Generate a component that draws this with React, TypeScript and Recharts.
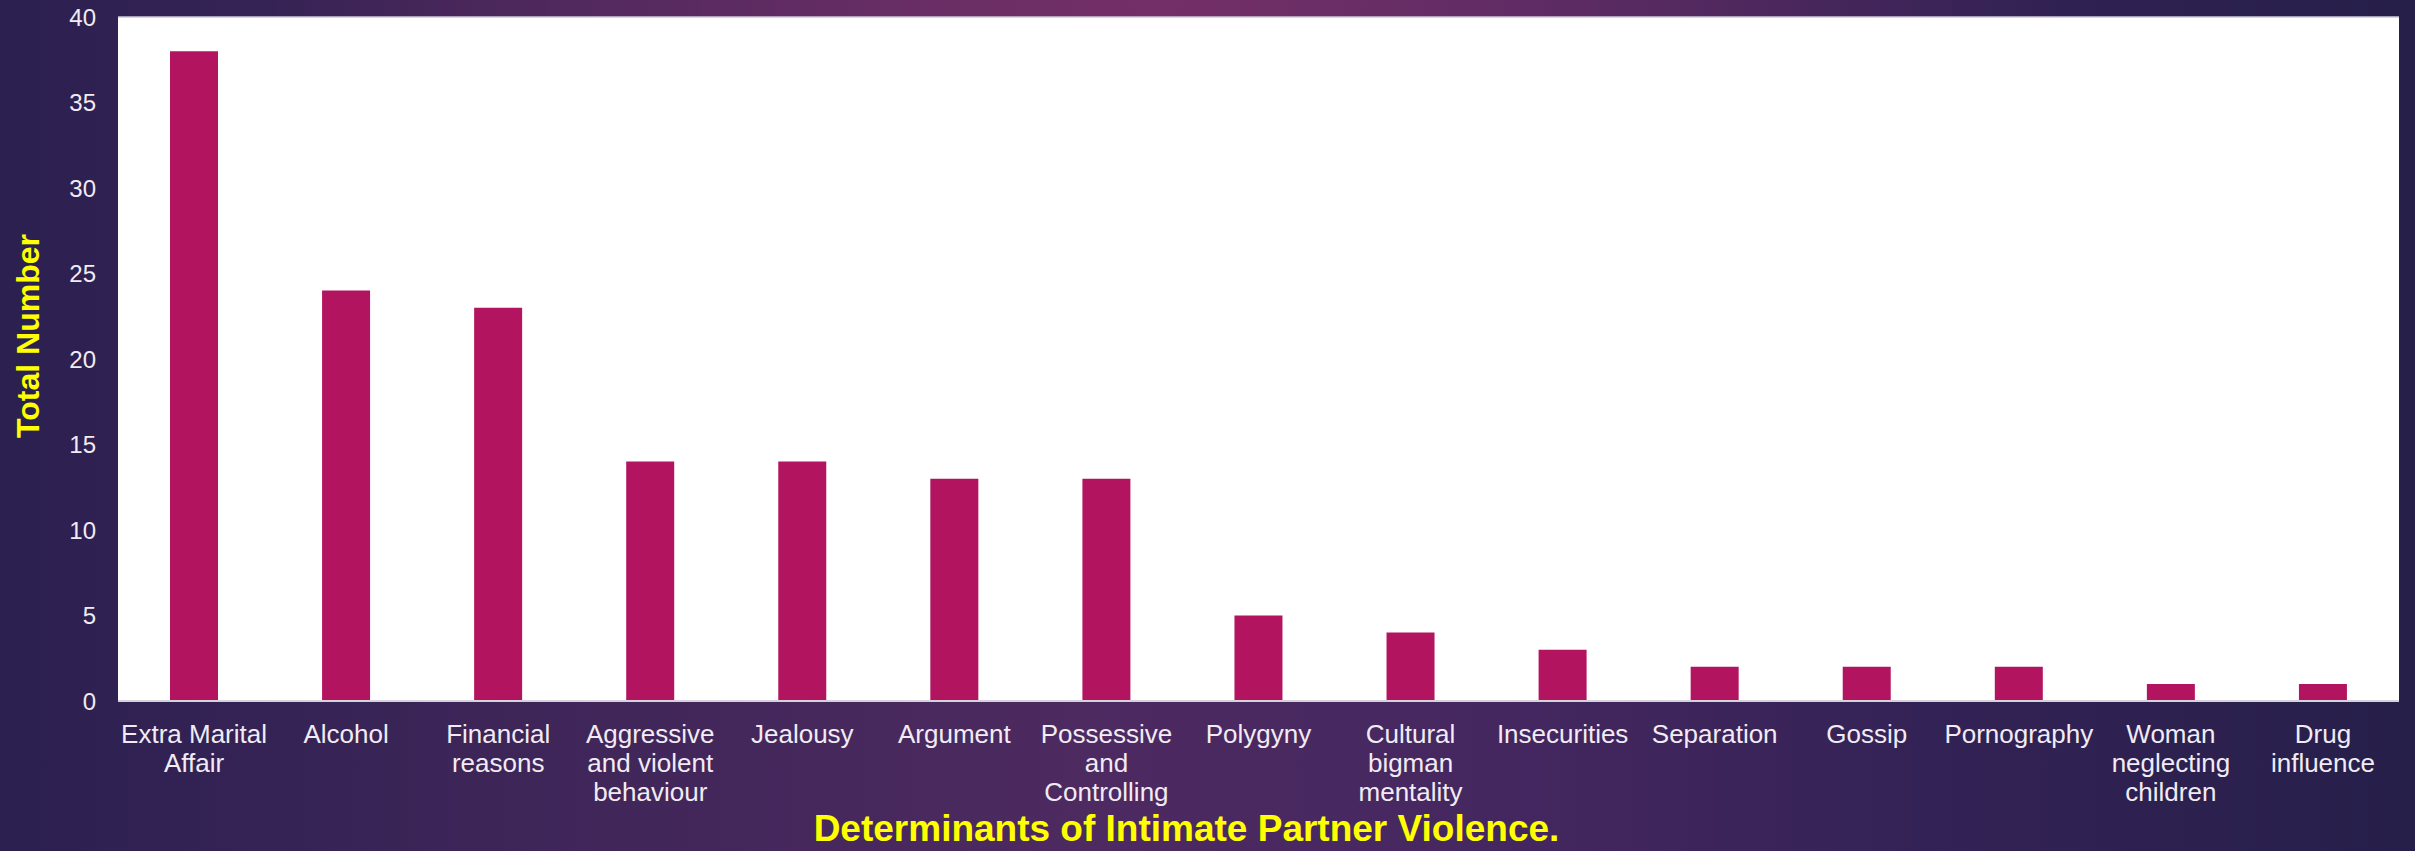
import React from "react";
import {
  BarChart,
  Bar,
  XAxis,
  YAxis,
  CartesianGrid,
  ReferenceLine,
  Label,
} from "recharts";

// categories use "\n" where the label wraps
const categories = [
  "Extra Marital\nAffair",
  "Alcohol",
  "Financial\nreasons",
  "Aggressive\nand violent\nbehaviour",
  "Jealousy",
  "Argument",
  "Possessive\nand\nControlling",
  "Polygyny",
  "Cultural\nbigman\nmentality",
  "Insecurities",
  "Separation",
  "Gossip",
  "Pornography",
  "Woman\nneglecting\nchildren",
  "Drug\ninfluence",
];

const totals = [38, 24, 23, 14, 14, 13, 13, 5, 4, 3, 2, 2, 2, 1, 1];

const yTicks = [0, 5, 10, 15, 20, 25, 30, 35, 40];

const xTitle = "Determinants of Intimate Partner Violence.";
const yTitle = "Total Number";

const data = categories.map((name, i) => ({ name, total: totals[i] }));

const FONT = "'Liberation Sans', Arial, sans-serif";
const TICK_COLOR = "#f1ebf4";

const XTick = (props: any) => {
  const { x, y, payload } = props;
  const lines = String(payload.value).split("\n");
  return (
    <text
      x={x}
      y={y + 40}
      textAnchor="middle"
      fill={TICK_COLOR}
      fontSize={26}
      fontFamily={FONT}
    >
      {lines.map((l, i) => (
        <tspan key={i} x={x} dy={i === 0 ? 0 : 29}>
          {l}
        </tspan>
      ))}
    </text>
  );
};

const XTitle = (props: any) => {
  const vb = props.viewBox;
  return (
    <text
      x={vb.x + vb.width / 2 - 72}
      y={vb.y + 140}
      textAnchor="middle"
      fill="#ffff00"
      fontSize={37}
      fontWeight="bold"
      fontFamily={FONT}
    >
      {xTitle}
    </text>
  );
};

const YTitle = (props: any) => {
  const vb = props.viewBox;
  const cx = 28;
  const cy = vb.y + vb.height / 2 - 23;
  return (
    <text
      x={cx}
      y={cy}
      transform={`rotate(-90 ${cx} ${cy})`}
      textAnchor="middle"
      dominantBaseline="central"
      fill="#ffff00"
      fontSize={32}
      fontWeight="bold"
      fontFamily={FONT}
    >
      {yTitle}
    </text>
  );
};

export default function App() {
  return (
    <div
      style={{
        position: "absolute",
        top: 0,
        left: 0,
        width: 2415,
        height: 851,
        background:
          "radial-gradient(ellipse 900px 500px at 48% 0%, rgba(120,48,104,0.9), rgba(120,48,104,0) 100%), linear-gradient(to right, #2b2050 0%, #3d2558 20%, #4d2a60 45%, #452760 62%, #332255 80%, #261f4a 100%)",
      }}
    >
      <BarChart
        width={2415}
        height={851}
        data={data}
        margin={{ top: 17, right: 16, left: 0, bottom: 0 }}
      >
        <CartesianGrid
          fill="#ffffff"
          horizontal={false}
          vertical={false}
          stroke="none"
        />
        <ReferenceLine y={40} stroke="#cfc8d8" strokeWidth={1.5} />
        <XAxis
          dataKey="name"
          height={150}
          interval={0}
          tickLine={false}
          tickSize={0}
          tick={<XTick />}
          axisLine={{ stroke: "#d6d2dc", strokeWidth: 2 }}
        >
          <Label content={<XTitle />} />
        </XAxis>
        <YAxis
          width={118}
          domain={[0, 40]}
          ticks={yTicks}
          axisLine={false}
          tickLine={false}
          tickSize={0}
          tickMargin={22}
          tick={{ fill: TICK_COLOR, fontSize: 24, fontFamily: FONT }}
        >
          <Label content={<YTitle />} />
        </YAxis>
        <Bar
          dataKey="total"
          fill="#b3145f"
          barSize={48}
          isAnimationActive={false}
        />
      </BarChart>
    </div>
  );
}
